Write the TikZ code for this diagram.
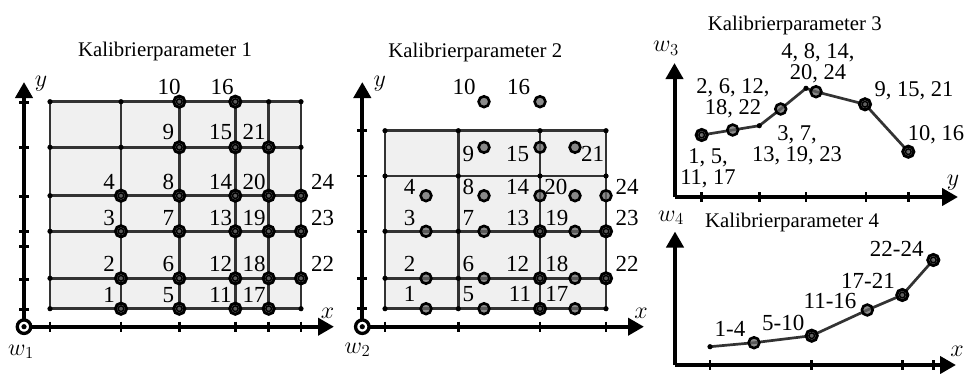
\RequirePackage{fix-cm}
\documentclass[tikz,border=0pt]{standalone}
\usepackage{fontspec}
\setmainfont{Liberation Serif}
\usetikzlibrary{arrows.meta}
\tikzset{
  axisline/.style={line width=4pt, -{Triangle[width=17pt,length=16pt]}},
  tickmark/.style={line width=2.5pt},
  gridline/.style={line width=2.7pt, draw=black!80},
  polyline/.style={line width=2.7pt, draw=black!80},
  bgfill/.style={fill=black!6},
  gdot/.style={fill=black},
  ptg/.style={circle, draw=black, line width=2.6pt, fill=black!60, fill opacity=0.75, draw opacity=1, inner sep=0pt, minimum size=10.8pt},
  ptd/.style={ptg, line width=2.9pt, minimum size=11.2pt, fill opacity=0.9, path picture={\draw[black, line width=1.4pt] (path picture bounding box.center) circle (2.8pt);}},
  origin/.style={circle, draw=black, line width=3.3pt, fill=white, inner sep=0pt, minimum size=13.5pt},
  lbl/.style={font=\fontsize{23}{23}\selectfont, inner sep=0pt},
  mlbl/.style={font=\fontsize{22.5}{21.5}\selectfont, inner sep=0pt, align=center, anchor=north},
  ttl/.style={font=\fontsize{20.8}{21}\selectfont, inner sep=0pt, anchor=base},
  mth/.style={font=\fontsize{24}{24}\selectfont, inner sep=0pt},
}
\begin{document}
\begin{tikzpicture}[x=1pt,y=-1pt]
\useasboundingbox (0,0) rectangle (971,373);

% ================= Panel 1 =================
\node[ttl] (t1) at (165,56.7) {Kalibrierparameter 1};
\fill[bgfill] (50,101.7) rectangle (301,308.7);
\foreach \x in {50,121,179.3,235.3,268.7,301} \draw[gridline] (\x,101.7) -- (\x,308.7);
\foreach \y in {101.7,147.3,195.7,231.3,278.3,308.7} \draw[gridline] (50,\y) -- (301,\y);
\foreach \x in {50,121,179.3,235.3,268.7,301}
  \foreach \y in {101.7,147.3,195.7,231.3,278.3,308.7}
    \fill[gdot] (\x,\y) circle (2.6pt);
\coordinate (o1) at (24,326.7);
\coordinate (o1y) at (24,82);
\coordinate (o1x) at (334,326.7);
\draw[axisline] (o1) -- (o1y);
\draw[axisline] (o1) -- (o1x);
\foreach \x in {50,121,179.3,235.3,268.7,301} \draw[tickmark] (\x,321.7) -- (\x,331.7);
\foreach \y in {102.7,147.3,196.7,231.7,246.7,279.3,309.3} \draw[tickmark] (19,\y) -- (29,\y);
\node[origin] (w1o) at (o1) {};
\fill (w1o.center) circle (2.6pt);
\node[mth, anchor=base] (w1) at (21,355) {$w_1$};
\node[mth] (y1) at (41,84) {$y$};
\node[mth] (x1) at (327.5,313) {$x$};
\foreach \n/\x/\y in {1/121/308.7, 2/121/278.3, 3/121/231.3, 4/121/195.7,
  5/179.3/308.7, 6/179.3/278.3, 7/179.3/231.3, 8/179.3/195.7, 9/179.3/147.3, 10/179.3/101.7,
  11/235.3/308.7, 12/235.3/278.3, 13/235.3/231.3, 14/235.3/195.7, 15/235.3/147.3, 16/235.3/101.7,
  17/268.7/308.7, 18/268.7/278.3, 19/268.7/231.3, 20/268.7/195.7, 21/268.7/147.3,
  22/301/278.3, 23/301/231.3, 24/301/195.7}
  \node[ptd] (a\n) at (\x,\y) {};
\foreach \n/\x/\y in {1/109/295, 2/109/263.7, 3/109/217.5, 4/109/181.7,
  5/168.3/295, 6/168.3/263.7, 7/168.3/217.5, 8/168.3/181.7, 9/168.3/131.7, 10/169.2/86.7,
  11/220.5/295, 12/220.5/263.7, 13/220.5/217.5, 14/220.5/181.7, 15/220.5/131.7, 16/222.2/86.7,
  17/254/295, 18/254/263.7, 19/254/217.5, 20/254/181.7, 21/254/131.7,
  22/322.5/263.7, 23/322.5/217.5, 24/322.5/181.7}
  \node[lbl] (la\n) at (\x,\y) {\n};

% ================= Panel 2 =================
\node[ttl] (t2) at (475.3,57) {Kalibrierparameter 2};
\fill[bgfill] (385,130.7) rectangle (606,308.7);
\foreach \x in {385,458.3,540,606} \draw[gridline] (\x,130.7) -- (\x,308.7);
\foreach \y in {130.7,176,231.3,278.3,308.7} \draw[gridline] (385,\y) -- (606,\y);
\foreach \x in {385,458.3,540,606}
  \foreach \y in {130.7,176,231.3,278.3,308.7}
    \fill[gdot] (\x,\y) circle (2.6pt);
\coordinate (o2) at (362.3,326.7);
\coordinate (o2y) at (362.3,82);
\coordinate (o2x) at (644,326.7);
\draw[axisline] (o2) -- (o2y);
\draw[axisline] (o2) -- (o2x);
\foreach \x in {385,458.3,540,606} \draw[tickmark] (\x,321.7) -- (\x,331.7);
\foreach \y in {130.7,176,231.3,278.3,308.7} \draw[tickmark] (357.3,\y) -- (367.3,\y);
\node[origin] (w2o) at (o2) {};
\fill (w2o.center) circle (2.6pt);
\node[mth, anchor=base] (w2) at (357.5,353.3) {$w_2$};
\node[mth] (y2) at (379.7,84) {$y$};
\node[mth] (x2) at (641,313) {$x$};
\foreach \n/\x/\y in {1/426/308.7, 2/426/278.3, 3/426/231.3, 4/426/195.7,
  5/484/308.7, 6/484/278.3, 7/484/231.3, 8/484/195.7, 9/484/147.3, 10/484/101.7,
  14/540/195.7, 15/540/147.3, 16/540/101.7,
  17/575/308.7, 18/575/278.3, 19/575/231.3, 20/575/195.7, 21/575/147.3, 24/606/195.7}
  \node[ptg] (b\n) at (\x,\y) {};
\foreach \n/\x/\y in {11/540/308.7, 12/540/278.3, 13/540/231.3, 22/606/278.3, 23/606/231.3}
  \node[ptd] (b\n) at (\x,\y) {};
\foreach \n/\x/\y in {1/409.5/294, 2/409.5/263.5, 3/409.5/217.5, 4/409.5/186.5,
  5/468.3/294, 6/468.3/263.5, 7/468.3/217.5, 8/468.3/186.5, 9/468.3/154, 10/464.2/86.7,
  11/520/294, 12/517.5/263.5, 13/517.5/217.5, 14/517.5/186.5, 15/517.5/154, 16/518.5/86.7,
  17/556.8/294, 18/556.8/263.5, 19/556.8/217.5, 20/555.8/186.5, 21/592.5/154,
  22/627/263.5, 23/627/217.5, 24/627/186.5}
  \node[lbl] (lb\n) at (\x,\y) {\n};

% ================= Panel 3 =================
\node[ttl] (t3) at (794.7,30) {Kalibrierparameter 3};
\coordinate (o3) at (674.5,197);
\coordinate (o3y) at (674.5,63);
\coordinate (o3x) at (958,197);
\draw[axisline] (o3) -- (o3y);
\draw[axisline] (o3) -- (o3x);
\foreach \x in {701.7,759.3,806,866,908.3} \draw[tickmark] (\x,192) -- (\x,202);
\node[mth, anchor=base] (w3) at (666,51.7) {$w_3$};
\node[mth] (y3) at (953,182.5) {$y$};
\coordinate (c1) at (701.7,135);
\coordinate (c2) at (732.7,130);
\coordinate (c2a) at (759.3,125.7);
\coordinate (c3) at (780.7,109);
\coordinate (c3a) at (806,88.3);
\coordinate (c4) at (816,91.7);
\coordinate (c5) at (865,104.3);
\coordinate (c6) at (908.3,151.7);
\draw[polyline] (c1) -- (c2) -- (c2a) -- (c3) -- (c3a) -- (c4) -- (c5) -- (c6);
\fill[gdot] (c2a) circle (2.6pt);
\fill[gdot] (c3a) circle (2.6pt);
\node[ptd] (pc1) at (c1) {};
\node[ptg] (pc2) at (c2) {};
\node[ptg] (pc3) at (c3) {};
\node[ptg] (pc4) at (c4) {};
\node[ptd] (pc5) at (c5) {};
\node[ptd] (pc6) at (c6) {};
\node[mlbl] (lc1) at (708,148.3) {1, 5,\\11, 17};
\node[mlbl] (lc2) at (733,78.3) {2, 6, 12,\\18, 22};
\node[mlbl] (lc3) at (797,125) {3, 7,\\13, 19, 23};
\node[mlbl] (lc4) at (818,43.3) {4, 8, 14,\\20, 24};
\node[mlbl] (lc5) at (914,81.7) {9, 15, 21};
\node[mlbl] (lc6) at (936,125) {10, 16};

% ================= Panel 4 =================
\node[ttl] (t4) at (792,227.3) {Kalibrierparameter 4};
\coordinate (o4) at (675,365);
\coordinate (o4y) at (675,231.5);
\coordinate (o4x) at (956,365);
\draw[axisline] (o4) -- (o4y);
\draw[axisline] (o4) -- (o4x);
\foreach \x in {710,811.7,902.7,933.3} \draw[tickmark] (\x,360) -- (\x,370);
\node[mth, anchor=base] (w4) at (671,221) {$w_4$};
\node[mth] (x4) at (957,351) {$x$};
\coordinate (d0) at (710,346.7);
\coordinate (d1) at (754,342.7);
\coordinate (d2) at (811.7,335.7);
\coordinate (d3) at (867.3,310);
\coordinate (d4) at (902.3,295);
\coordinate (d5) at (933.3,260);
\draw[polyline] (d0) -- (d1) -- (d2) -- (d3) -- (d4) -- (d5);
\fill[gdot] (d0) circle (2.6pt);
\node[ptg] (pd1) at (d1) {};
\node[ptd] (pd2) at (d2) {};
\node[ptg] (pd3) at (d3) {};
\node[ptd] (pd4) at (d4) {};
\node[ptd] (pd5) at (d5) {};
\node[lbl] (ld1) at (730,329) {1-4};
\node[lbl] (ld2) at (783.3,322.5) {5-10};
\node[lbl] (ld3) at (830,301) {11-16};
\node[lbl] (ld4) at (868,281) {17-21};
\node[lbl] (ld5) at (896.7,249) {22-24};
\end{tikzpicture}
\end{document}
